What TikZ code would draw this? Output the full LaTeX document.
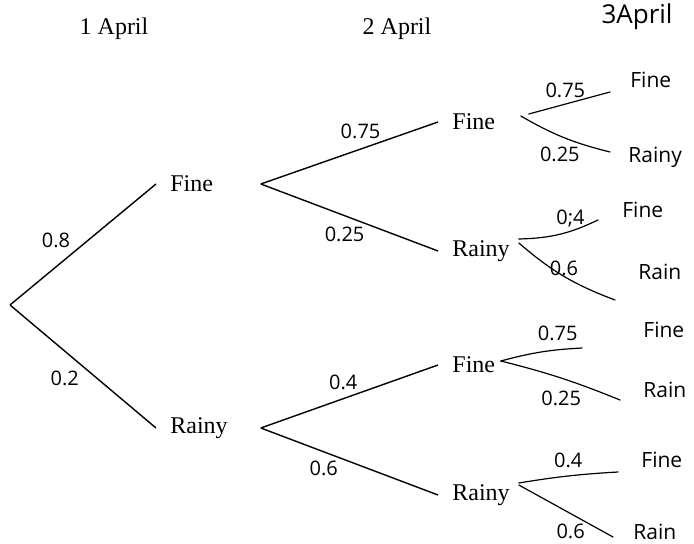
\documentclass[tikz,border=0pt]{standalone}
\usepackage{fontspec}
\setmainfont{Liberation Serif}
\newfontfamily\handfont{Open Sans}
\usetikzlibrary{positioning}
\tikzset{
  day/.style={font=\fontsize{12}{14}\selectfont},
  first/.style={anchor=west, inner xsep=7pt, inner ysep=3pt, text width=38pt,
                align=left, font=\fontsize{12}{14}\selectfont},
  second/.style={first, text width=29pt},
  hand/.style={font=\handfont\fontsize{10}{12}\selectfont, inner sep=1pt},
  leaf/.style={hand, anchor=west, font=\handfont\fontsize{10.5}{12}\selectfont},
  branch/.style={line width=0.7pt},
  scrawl/.style={line width=0.6pt, line cap=round}
}
\begin{document}
\begin{tikzpicture}[x=0.5pt, y=-0.5pt]
  \useasboundingbox (0,0) rectangle (694,544);
  % column headings
  \node[day] (d1) at (114,29) {1 April};
  \node[day] (d2) at (397,29) {2 April};
  \node[hand, font=\handfont\fontsize{13}{15}\selectfont] (d3) at (637,17) {3April};
  % printed tree
  \coordinate (root) at (10,305);
  \node[first] (f) at (156,184) {Fine};
  \node[first] (r) at (156,428) {Rainy};
  \node[second] (ff) at (438,122) {Fine};
  \node[second] (fr) at (438,251) {Rainy};
  \node[second] (rf) at (438,365) {Fine};
  \node[second] (rr) at (438,495) {Rainy};
  \draw[branch] (root) -- node[hand, pos=0.44, above left=1pt] {0.8} (f.west);
  \draw[branch] (root) -- node[hand, pos=0.5, below left=1pt] {0.2} (r.west);
  \draw[branch] (f.east) -- node[hand, pos=0.69, above left=0pt] {0.75} (ff.west);
  \draw[branch] (f.east) -- node[hand, pos=0.6, below left=0pt] {0.25} (fr.west);
  \draw[branch] (r.east) -- node[hand, pos=0.56, above left=0pt] {0.4} (rf.west);
  \draw[branch] (r.east) -- node[hand, pos=0.45, below left=0pt] {0.6} (rr.west);
  % handwritten third day
  \coordinate (ffa) at (610,92);
  \coordinate (ffb) at (610,152);
  \coordinate (fra) at (598,220);
  \coordinate (frb) at (615,300);
  \coordinate (rfa) at (582,348);
  \coordinate (rfb) at (620,400);
  \coordinate (rra) at (618,472);
  \coordinate (rrb) at (613,537);
  \node[leaf] (ffF) at (628,80) {Fine};
  \node[leaf] (ffR) at (626,157) {Rainy};
  \node[leaf] (frF) at (620,210) {Fine};
  \node[leaf] (frR) at (636,272) {Rain};
  \node[leaf] (rfF) at (641,330) {Fine};
  \node[leaf] (rfR) at (641,390) {Rain};
  \node[leaf] (rrF) at (639,460) {Fine};
  \node[leaf] (rrR) at (631,532) {Rain};
  \draw[scrawl] ([xshift=2pt,yshift=4pt]ff.east) -- node[hand, pos=0.45, above=2pt] {0.75} (ffa);
  \draw[scrawl] ([xshift=-2pt,yshift=3pt]ff.east) to[bend right=8] node[hand, pos=0.45, below=4pt] {0.25} (ffb);
  \draw[scrawl] ([xshift=-3pt,yshift=6pt]fr.east) to[bend right=12] node[hand, pos=0.65, above=1pt] {0;4} (fra);
  \draw[scrawl] ([xshift=-3pt,yshift=4pt]fr.east) to[bend right=10] node[hand, pos=0.5, above=-1pt] {0.6} (frb);
  \draw[scrawl] ([xshift=-12pt,yshift=2pt]rf.east) to[bend left=6] node[hand, pos=0.72, above=3pt] {0.75} (rfa);
  \draw[scrawl] ([xshift=-12pt,yshift=2pt]rf.east) to[bend left=4] node[hand, pos=0.5, below=5pt] {0.25} (rfb);
  \draw[scrawl] ([xshift=-3pt,yshift=6pt]rr.east) to[bend left=3] node[hand, pos=0.5, above=3pt] {0.4} (rra);
  \draw[scrawl] ([xshift=-3pt,yshift=5pt]rr.east) -- node[hand, pos=0.55, below=4pt] {0.6} (rrb);
\end{tikzpicture}
\end{document}
